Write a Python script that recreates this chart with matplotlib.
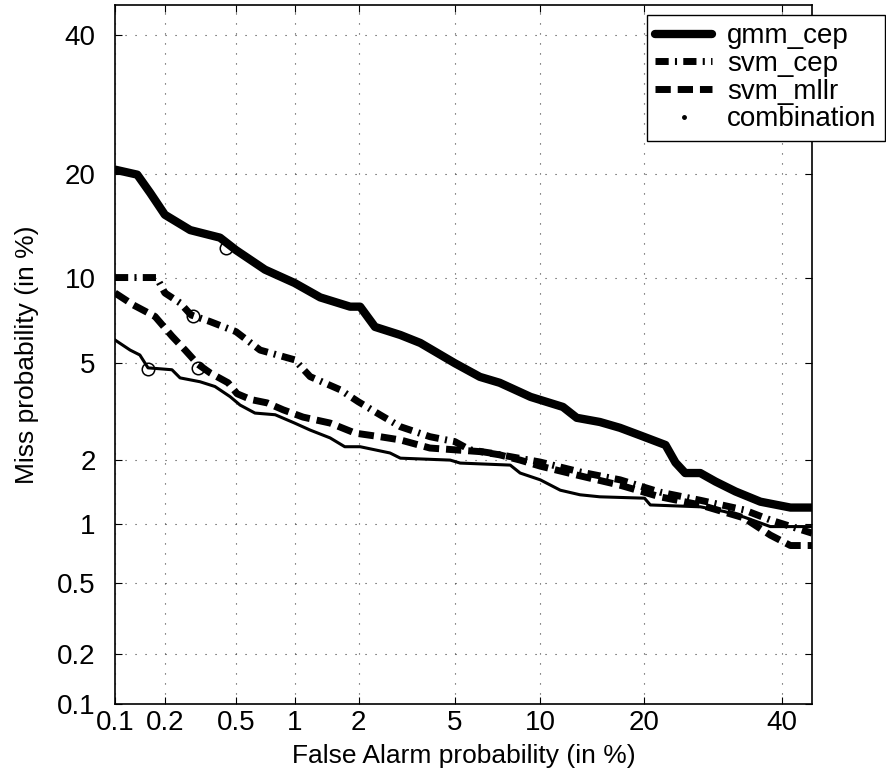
"""DET curves: gmm_cep, svm_cep, svm_mllr and their combination."""
import math
import numpy as np
import matplotlib
matplotlib.use("Agg")
import matplotlib.pyplot as plt
from matplotlib.lines import Line2D

plt.rcParams["font.family"] = ["Liberation Sans", "DejaVu Sans"]

TICKS = [0.1, 0.2, 0.5, 1, 2, 5, 10, 20, 40]
TICK_LABELS = ["0.1", "0.2", "0.5", "1", "2", "5", "10", "20", "40"]
LIMS = (0.1, 45)

# values in %
gmm_fa = [0.1, 0.137, 0.164, 0.2, 0.28, 0.41, 0.5, 0.71, 1.0, 1.33, 1.83, 2.03,
          2.36, 3.03, 3.66, 5.0, 6.2, 7.3, 9.3, 11.8, 13.0, 15.2, 17.3, 20.0,
          22.7, 24.0, 25.3, 27.4, 29.6, 32.6, 36.5, 41.4, 45]
gmm_miss = [20.5, 19.9, 17.8, 15.5, 14.0, 13.3, 12.2, 10.6, 9.6, 8.6, 8.0, 8.0,
            6.8, 6.36, 5.95, 5.0, 4.43, 4.2, 3.69, 3.36, 3.03, 2.91, 2.75, 2.52,
            2.32, 1.94, 1.74, 1.74, 1.59, 1.43, 1.28, 1.20, 1.20]

cep_fa = [0.1, 0.179, 0.2, 0.245, 0.283, 0.362, 0.5, 0.67, 1.0, 1.19, 1.65, 1.99,
          2.48, 3.03, 4.0, 5.0, 5.7, 6.76, 10, 13.3, 17.3, 22.0, 27.4, 33.9, 38.1, 45]
cep_miss = [10.0, 10.0, 8.9, 8.24, 7.49, 7.1, 6.54, 5.6, 5.15, 4.44, 3.94, 3.53,
            3.12, 2.78, 2.52, 2.40, 2.21, 2.14, 1.95, 1.76, 1.62, 1.42, 1.30, 1.17,
            1.045, 0.90]

mllr_fa = [0.1, 0.13, 0.175, 0.22, 0.262, 0.31, 0.362, 0.454, 0.507, 0.6, 0.728,
           0.877, 1.10, 1.48, 1.93, 2.48, 3.03, 4.0, 5.0, 6.2, 7.3, 8.58, 10, 13.3,
           17.3, 22.0, 27.4, 33.9, 38.1, 41.4, 45]
mllr_miss = [8.9, 8.1, 7.4, 6.3, 5.6, 4.95, 4.59, 4.2, 3.8, 3.6, 3.49, 3.27, 3.05,
             2.88, 2.61, 2.52, 2.44, 2.25, 2.21, 2.17, 2.10, 1.99, 1.87, 1.69, 1.53,
             1.35, 1.235, 1.07, 0.88, 0.78, 0.78]

comb_fa = [0.1, 0.124, 0.142, 0.159, 0.22, 0.245, 0.318, 0.385, 0.465, 0.526, 0.63,
           0.80, 1.0, 1.19, 1.48, 1.73, 2.03, 2.74, 3.03, 4.8, 5.24, 7.94, 8.58, 10,
           11.58, 13.3, 15.2, 20.1, 20.8, 27.4, 30.85, 33.9, 38.1, 45]
comb_miss = [6.1, 5.6, 5.37, 4.8, 4.72, 4.39, 4.24, 4.06, 3.7, 3.42, 3.17, 3.12,
             2.88, 2.69, 2.49, 2.28, 2.28, 2.14, 2.03, 1.99, 1.93, 1.89, 1.74, 1.62,
             1.45, 1.38, 1.35, 1.33, 1.235, 1.21, 1.15, 1.08, 0.97, 0.97]

# min DCF operating points (gmm_cep, svm_cep, svm_mllr, combination)
dcf_fa = [0.44, 0.29, 0.31, 0.16]
dcf_miss = [12.4, 7.45, 4.8, 4.75]

LABELS = ["gmm_cep", "svm_cep", "svm_mllr", "combination"]

# normal deviate scale (Acklam's inverse normal approximation)
A = [-3.969683028665376e+01, 2.209460984245205e+02, -2.759285104469687e+02,
     1.383577518672690e+02, -3.066479806614716e+01, 2.506628277459239e+00]
B = [-5.447609879822406e+01, 1.615858368580409e+02, -1.556989798598866e+02,
     6.680131188771972e+01, -1.328068155288572e+01, 1.0]
C = [-7.784894002430293e-03, -3.223964580411365e-01, -2.400758277161838e+00,
     -2.549732539343734e+00, 4.374664141464968e+00, 2.938163982698783e+00]
D = [7.784695709041462e-03, 3.224671290700398e-01, 2.445134137142996e+00,
     3.754408661907416e+00, 1.0]
_erf = np.vectorize(math.erf, otypes=[float])


def ppf(p):
    p = np.clip(np.asarray(p, dtype=float), 1e-12, 1 - 1e-12)
    q = p - 0.5
    z_mid = np.polyval(A, q * q) * q / np.polyval(B, q * q)
    t = np.sqrt(-2 * np.log(np.minimum(p, 1 - p)))
    z_tail = np.polyval(C, t) / np.polyval(D, t)
    z_tail = np.where(p < 0.5, z_tail, -z_tail)
    return np.where(np.abs(q) < 0.5 - 0.02425, z_mid, z_tail)


def fwd(x):
    return ppf(np.asarray(x, dtype=float) / 100)


def inv(z):
    return 50 * (1 + _erf(np.asarray(z, dtype=float) / math.sqrt(2)))


fig = plt.figure(figsize=(8.86, 7.74), dpi=100)
ax = fig.add_axes([115 / 886, 70 / 774, 697 / 886, 699 / 774])
ax.set_xscale("function", functions=(fwd, inv))
ax.set_yscale("function", functions=(fwd, inv))

styles = [
    dict(lw=6, ls="-", solid_capstyle="round", solid_joinstyle="round"),
    dict(lw=5, ls=(0, (1.9, 0.9, 0.3, 0.9)), dash_capstyle="butt"),
    dict(lw=5, ls=(0, (2.2, 1.0)), dash_capstyle="butt"),
    dict(lw=2.2, ls="-"),
]
series = [(gmm_fa, gmm_miss), (cep_fa, cep_miss), (mllr_fa, mllr_miss),
          (comb_fa, comb_miss)]
for (fa, miss), st in zip(series, styles):
    ax.plot(fa, miss, color="black", **st)
ax.plot(dcf_fa, dcf_miss, "o", mfc="none", mec="black", ms=9, mew=1.1, zorder=5)

ax.set_xlim(*LIMS)
ax.set_ylim(*LIMS)
ax.set_xticks(TICKS)
ax.set_xticklabels(TICK_LABELS)
ax.set_yticks(TICKS)
ax.set_yticklabels(TICK_LABELS)
ax.minorticks_off()
ax.tick_params(direction="in", top=True, right=True, length=5, width=0.8,
               labelsize=20)
ax.tick_params(axis="x", pad=4)
ax.tick_params(axis="y", pad=14)
ax.grid(True, color="0.25", lw=0.8, ls=(0, (1, 8)))
for s in ax.spines.values():
    s.set_linewidth(1.2)

ax.set_xlabel("False Alarm probability (in %)", fontsize=19, va="center")
ax.set_ylabel("Miss probability (in %)", fontsize=19, va="center")
ax.xaxis.set_label_coords(0.5, (704 - 756) / 699)
ax.yaxis.set_label_coords((27 - 115) / 697, 0.5)

handles = [Line2D([], [], color="black", **st) for st in styles[:3]]
handles.append(Line2D([], [], color="black", ls="none", marker=".", ms=5))
leg = fig.legend(handles, LABELS, loc="upper right",
                 bbox_to_anchor=(885 / 886, 1 - 15 / 774), borderaxespad=0,
                 fontsize=20, frameon=True, fancybox=False, framealpha=1,
                 edgecolor="black", handlelength=2.05, handletextpad=0.55,
                 borderpad=0.3, labelspacing=0.06)
leg.get_frame().set_linewidth(1.0)

plt.savefig("out.png", dpi=100)
